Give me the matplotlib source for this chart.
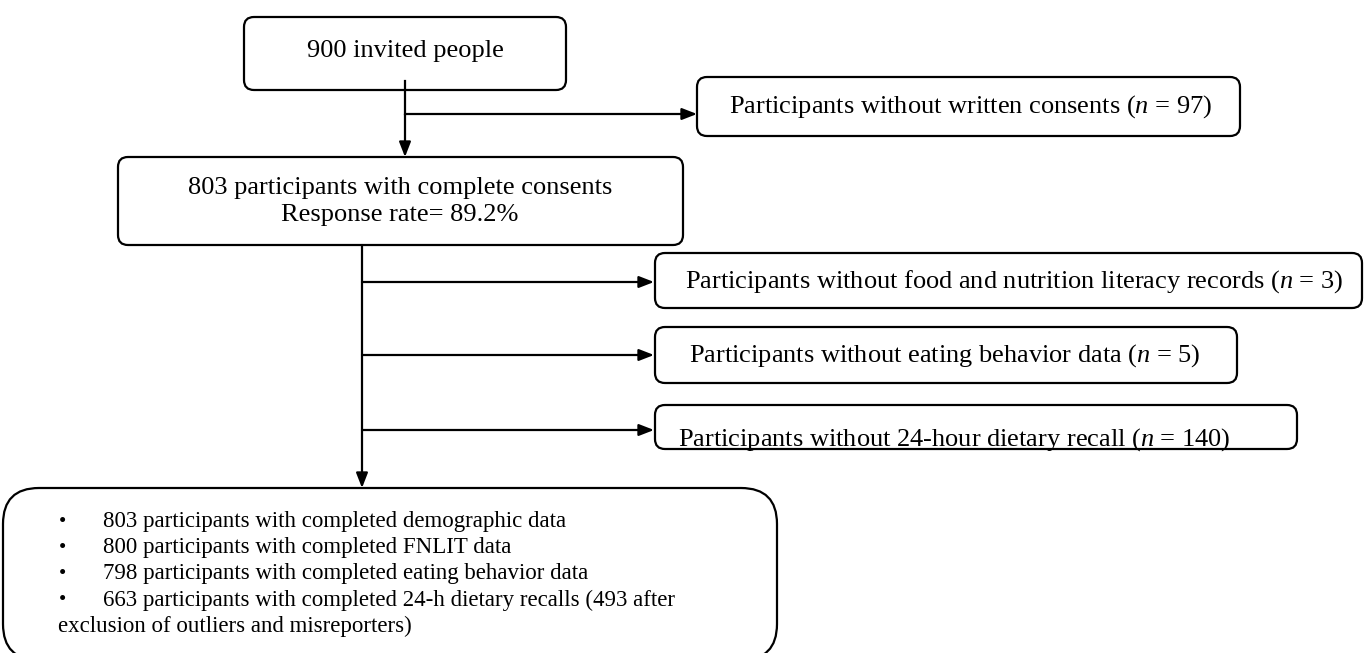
import matplotlib
matplotlib.use("Agg")
import matplotlib.pyplot as plt
from matplotlib.patches import FancyBboxPatch, Rectangle

plt.rcParams['font.family'] = ['Liberation Serif', 'DejaVu Serif']
plt.rcParams['mathtext.fontset'] = 'custom'
plt.rcParams['mathtext.rm'] = 'Liberation Serif'
plt.rcParams['mathtext.it'] = 'Liberation Serif:italic'

# ---- data ----
invited = 900
no_consent = 97
consented = 803
response_rate = 89.2
excluded_labels = ["Participants without food and nutrition literacy records",
                   "Participants without eating behavior data",
                   "Participants without 24-hour dietary recall"]
excluded_n = [3, 5, 140]
final_counts = [803, 800, 798, 663]
final_labels = ["participants with completed demographic data",
                "participants with completed FNLIT data",
                "participants with completed eating behavior data",
                "participants with completed 24-h dietary recalls (493 after"]
final_tail = "exclusion of outliers and misreporters)"

# ---- layout ----
W, H = 1367, 653
fig = plt.figure(figsize=(W / 100, H / 100), dpi=100)
ax = fig.add_axes([0, 0, 1, 1])
ax.set_xlim(0, W)
ax.set_ylim(H, 0)
ax.axis('off')

LW = 1.6
FS = 19
FS_SMALL = 16.5


def rbox(x0, y0, x1, y1, r=10):
    p = FancyBboxPatch((x0, y0), x1 - x0, y1 - y0,
                       boxstyle=f"round,pad=0,rounding_size={r}",
                       fc='white', ec='black', lw=LW, zorder=2)
    ax.add_patch(p)
    return p


def arrow(x0, y0, x1, y1):
    ax.annotate("", xy=(x1, y1), xytext=(x0, y0),
                arrowprops=dict(arrowstyle="-|>,head_length=0.9,head_width=0.35",
                                lw=LW, color='black', shrinkA=0, shrinkB=0),
                zorder=3)


# top box
rbox(244, 17, 566, 90)
ax.text(405, 51, f"{invited} invited people", ha='center', va='center', fontsize=FS)

# main vertical 1
ax.plot([405, 405], [81, 114], color='black', lw=LW, zorder=3)
arrow(405, 114, 405, 157)
arrow(405, 114, 697, 114)

rbox(697, 77, 1240, 136)
ax.text(971, 107, f"Participants without written consents ($n$ = {no_consent})",
        ha='center', va='center', fontsize=FS)

# second box
rbox(118, 157, 683, 245)
ax.text(400, 188, f"{consented} participants with complete consents",
        ha='center', va='center', fontsize=FS)
ax.text(400, 215, f"Response rate= {response_rate}%",
        ha='center', va='center', fontsize=FS)

# main vertical 2
arrow(362, 245, 362, 488)
branch_y = [282, 355, 430]
box_coords = [(655, 253, 1362, 308), (655, 327, 1237, 383), (655, 405, 1297, 449)]
text_cx = [1014, 945, 954]
text_base = [288, 362, 446]
for i, (lab, n) in enumerate(zip(excluded_labels, excluded_n)):
    arrow(362, branch_y[i], 654, branch_y[i])
    x0, y0, x1, y1 = box_coords[i]
    rbox(x0, y0, x1, y1)
    t = ax.text(text_cx[i], text_base[i], f"{lab} ($n$ = {n})",
                ha='center', va='baseline', fontsize=FS, zorder=4)
    if i == 2:
        clip = Rectangle((x0, y0), x1 - x0, 441 - y0, transform=ax.transData)
        t.set_clip_path(clip)

# final box
rbox(3, 488, 777, 660, r=36)
line_y = [522, 548, 574, 600]
for yy, c, lab in zip(line_y, final_counts, final_labels):
    ax.text(59, yy, "\u2022", ha='left', va='center', fontsize=15)
    ax.text(103, yy, f"{c} {lab}", ha='left', va='center', fontsize=FS_SMALL)
ax.text(58, 626, final_tail, ha='left', va='center', fontsize=FS_SMALL)

fig.savefig("out.png", dpi=100)
